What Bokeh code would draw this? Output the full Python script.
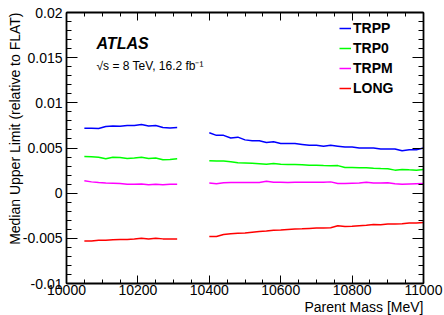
import math
import numpy as np
from bokeh.plotting import figure
from bokeh.models import (FixedTicker, LinearAxis, Label, Legend, LegendItem, Range1d,
                          Title, CustomLabelingPolicy)
from bokeh.embed import file_html
from bokeh.resources import INLINE

# ---------------- data ----------------
mass_a = [10050, 10070, 10090, 10110, 10130, 10150, 10170, 10190, 10210, 10230,
          10250, 10270, 10290, 10310]
mass_b = [10400, 10420, 10440, 10460, 10480, 10500, 10520, 10540, 10560, 10580,
          10600, 10620, 10640, 10660, 10680, 10700, 10720, 10740, 10760, 10780,
          10800, 10820, 10840, 10860, 10880, 10900, 10920, 10940, 10960, 10980, 11000]

trpp_a = [0.00719, 0.00719, 0.00716, 0.00738, 0.00743, 0.00741, 0.00749, 0.00749,
          0.00760, 0.00743, 0.00749, 0.00727, 0.00721, 0.00727]
trpp_b = [0.00668, 0.00640, 0.00640, 0.00610, 0.00620, 0.00590, 0.00580, 0.00580,
          0.00560, 0.00570, 0.00550, 0.00550, 0.00550, 0.00540, 0.00530, 0.00530,
          0.00520, 0.00530, 0.00520, 0.00510, 0.00510, 0.00500, 0.00500, 0.00500,
          0.00490, 0.00490, 0.00490, 0.00470, 0.00480, 0.00480, 0.00500]

trp0_a = [0.00406, 0.00403, 0.00398, 0.00380, 0.00398, 0.00395, 0.00384, 0.00389,
          0.00398, 0.00384, 0.00389, 0.00370, 0.00373, 0.00380]
trp0_b = [0.00360, 0.00355, 0.00355, 0.00348, 0.00338, 0.00335, 0.00330, 0.00325,
          0.00320, 0.00328, 0.00320, 0.00318, 0.00318, 0.00315, 0.00310, 0.00308,
          0.00305, 0.00303, 0.00305, 0.00285, 0.00285, 0.00280, 0.00282, 0.00275,
          0.00272, 0.00270, 0.00255, 0.00262, 0.00258, 0.00255, 0.00262]

trpm_a = [0.00137, 0.00125, 0.00118, 0.00113, 0.00111, 0.00108, 0.00100, 0.00098,
          0.00102, 0.00093, 0.00098, 0.00093, 0.00098, 0.00098]
trpm_b = [0.00112, 0.00105, 0.00115, 0.00118, 0.00118, 0.00118, 0.00118, 0.00118,
          0.00132, 0.00120, 0.00120, 0.00118, 0.00120, 0.00122, 0.00120, 0.00122,
          0.00120, 0.00125, 0.00108, 0.00108, 0.00110, 0.00112, 0.00120, 0.00112,
          0.00112, 0.00115, 0.00105, 0.00098, 0.00102, 0.00105, 0.00107]

long_a = [-0.00530, -0.00530, -0.00520, -0.00520, -0.00515, -0.00512, -0.00512,
          -0.00508, -0.00500, -0.00508, -0.00500, -0.00506, -0.00508, -0.00508]
long_b = [-0.00480, -0.00480, -0.00458, -0.00450, -0.00445, -0.00440, -0.00432,
          -0.00425, -0.00420, -0.00410, -0.00408, -0.00402, -0.00398, -0.00395,
          -0.00390, -0.00385, -0.00385, -0.00382, -0.00360, -0.00368, -0.00365,
          -0.00360, -0.00355, -0.00348, -0.00350, -0.00342, -0.00340, -0.00338,
          -0.00330, -0.00330, -0.00325]

series_names = ["TRPP", "TRP0", "TRPM", "LONG"]
series_colors = ["#0000ff", "#00ff00", "#ff00ff", "#ff0000"]

x_ticks = [10000, 10200, 10400, 10600, 10800, 11000]
x_tick_labels = ["10000", "10200", "10400", "10600", "10800", "11000"]
y_ticks = [-0.01, -0.005, 0, 0.005, 0.01, 0.015, 0.02]
y_tick_labels = ["-0.01", "-0.005", "0", "0.005", "0.01", "0.015", "0.02"]

x_title = "Parent Mass [MeV]"
y_title = "Median Upper Limit (relative to FLAT)"
atlas_text = "ATLAS"
energy_text = "\u221as = 8 TeV, 16.2 fb\u207b\u00b9"

# ---------------- figure ----------------
FONT = "Liberation Sans"
p = figure(width=444, height=315, output_backend="svg", toolbar_location=None,
           x_range=Range1d(10000, 11000), y_range=Range1d(-0.01, 0.02),
           x_axis_type=None, y_axis_type=None,
           min_border_left=66, min_border_right=21, min_border_top=12, min_border_bottom=32)
p.outline_line_color = None
p.grid.visible = False
p.background_fill_color = "white"
p.border_fill_color = "white"

x_minor = list(np.arange(10000, 11001, 50))
y_minor = [round(v, 4) for v in np.arange(-0.01, 0.02001, 0.001)]

no_labels = CustomLabelingPolicy(code="return new Set()")

def style_axis(ax, major_len, minor_len, show_labels):
    ax.axis_line_color = "black"
    ax.axis_line_width = 1.8
    ax.major_tick_in = major_len
    ax.major_tick_out = 0
    ax.minor_tick_in = minor_len
    ax.minor_tick_out = 0
    ax.major_tick_line_color = "black"
    ax.minor_tick_line_color = "black"
    ax.major_tick_line_width = 1
    ax.minor_tick_line_width = 1
    ax.major_label_text_font = FONT
    ax.major_label_text_color = "black"
    if show_labels:
        ax.major_label_text_font_size = "14px"
    else:
        ax.major_label_text_font_size = "0px"
        ax.major_label_standoff = 0
        ax.major_label_policy = no_labels

xb = LinearAxis(ticker=FixedTicker(ticks=x_ticks, minor_ticks=x_minor),
                major_label_overrides=dict(zip(x_ticks, x_tick_labels)))
style_axis(xb, 8, 4, True)
xb.major_label_standoff = 1
p.add_layout(xb, "below")

xt = LinearAxis(ticker=FixedTicker(ticks=x_ticks, minor_ticks=x_minor))
style_axis(xt, 8, 4, False)
p.add_layout(xt, "above")

yl = LinearAxis(ticker=FixedTicker(ticks=y_ticks, minor_ticks=y_minor),
                major_label_overrides=dict(zip(y_ticks, y_tick_labels)))
style_axis(yl, 11, 5, True)
yl.major_label_standoff = 4
p.add_layout(yl, "left")

yr = LinearAxis(ticker=FixedTicker(ticks=y_ticks, minor_ticks=y_minor))
style_axis(yr, 11, 5, False)
p.add_layout(yr, "right")

# axis titles (ROOT style: right aligned)
p.add_layout(Title(text=x_title, align="right", text_font=FONT, text_font_size="14px",
                   text_font_style="normal", text_color="black", standoff=-2), "below")
p.add_layout(Title(text=y_title, align="right", text_font=FONT, text_font_size="14px",
                   text_font_style="normal", text_color="black", standoff=-7), "left")

# ---------------- lines ----------------
data_a = [trpp_a, trp0_a, trpm_a, long_a]
data_b = [trpp_b, trp0_b, trpm_b, long_b]
items = []
for name, col, ya, yb in zip(series_names, series_colors, data_a, data_b):
    r1 = p.line(mass_a, ya, line_color=col, line_width=1.5)
    r2 = p.line(mass_b, yb, line_color=col, line_width=1.5)
    items.append(LegendItem(label=name, renderers=[r1]))

legend = Legend(items=items, location=(273, 185))
legend.border_line_alpha = 0
legend.background_fill_alpha = 0
legend.padding = 0
legend.margin = 0
legend.spacing = 0
legend.glyph_width = 12
legend.glyph_height = 20
legend.label_height = 20
legend.label_standoff = 2
legend.label_text_font = FONT
legend.label_text_font_style = "bold"
legend.label_text_font_size = "14px"
legend.label_text_color = "black"
p.add_layout(legend, "center")

# ---------------- texts ----------------
p.add_layout(Label(x=30, y=240, x_units="screen", y_units="screen", text=atlas_text,
                   text_font=FONT, text_font_style="bold italic", text_font_size="16px",
                   text_color="black", text_baseline="alphabetic"))
p.add_layout(Label(x=30, y=218, x_units="screen", y_units="screen", text=energy_text,
                   text_font=FONT, text_font_size="12px", text_color="black",
                   text_baseline="alphabetic"))

open("out.html", "w").write(file_html(p, INLINE))
